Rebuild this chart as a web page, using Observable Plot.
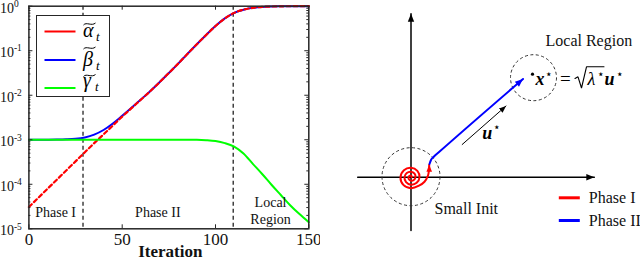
<!DOCTYPE html>
<html><head><meta charset="utf-8">
<script src="https://cdn.jsdelivr.net/npm/d3@7"></script>
<script src="https://cdn.jsdelivr.net/npm/@observablehq/plot@0.6"></script>
<style>
html,body{margin:0;padding:0;background:#fff;}
#wrap{position:relative;width:640px;height:261px;overflow:hidden;background:#fff;}
#left{position:absolute;left:0;top:0;}
#right{position:absolute;left:320px;top:0;}
#legend{position:absolute;left:36px;top:15px;width:74px;height:82px;box-sizing:border-box;border:1px solid #262626;background:#fff;}
#legend svg{position:absolute;left:-1px;top:-1px;overflow:visible;}
svg text{font-family:"Liberation Serif","Times New Roman",serif;}
</style></head><body>
<div id="wrap"><div id="left"></div><div id="right"></div><div id="legend"></div></div>
<script>
// ---------------- left chart data ----------------
const iterations = [0,5,10,15,20,25,30,35,40,45,50,55,60,65,70,75,80,85,90,95,100,105,110,115,120,125,130,135,140,145,150];
const alphaValues = [3.09e-5,4.95e-5,7.94e-5,1.27e-4,2.04e-4,3.27e-4,5.25e-4,8.41e-4,1.32e-3,2.09e-3,3.31e-3,5.13e-3,7.94e-3,1.23e-2,1.95e-2,3.16e-2,5.13e-2,8.51e-2,0.140,0.226,0.359,0.531,0.708,0.836,0.918,0.964,0.984,0.993,0.998,1.0,1.0];
const betaValues = [1.000e-3,1.001e-3,1.003e-3,1.008e-3,1.021e-3,1.052e-3,1.129e-3,1.307e-3,1.656e-3,2.32e-3,3.46e-3,5.23e-3,8.00e-3,1.234e-2,1.953e-2,3.16e-2,5.13e-2,8.51e-2,0.140,0.226,0.359,0.531,0.708,0.836,0.918,0.964,0.984,0.993,0.998,1.0,1.0];
const gammaValues = [1e-3,1e-3,1e-3,1e-3,1e-3,1e-3,1e-3,1e-3,1e-3,1e-3,1e-3,1e-3,1e-3,1e-3,1e-3,1e-3,1e-3,1e-3,1e-3,9.77e-4,9.33e-4,8.41e-4,7.0e-4,4.90e-4,2.88e-4,1.70e-4,9.77e-5,5.75e-5,3.39e-5,2.14e-5,1.41e-5];
const phaseBoundaries = [29, 109.5];
const xTicks = [0, 50, 100, 150];
const yTicks = [1e-5, 1e-4, 1e-3, 1e-2, 1e-1, 1];
const yTickExponents = ["-5", "-4", "-3", "-2", "-1", "0"];
const phaseLabelText = ["Phase I", "Phase II", "Local\nRegion"];
const phaseLabelX = [14.3, 69.1, 129.5];
const phaseLabelY = [2.48e-5, 2.48e-5, 2.62e-5];

// ---------------- right diagram data (schematic units) ----------------
const axisH = [{x:-53.3,y:0},{x:183.3,y:0}];
const axisV = [{x:0,y:-53.3},{x:0,y:163.4}];
const initCircle = [{x:0,y:0.5}];
const localCircle = [{x:122.5,y:99.5}];
const xStar = [{x:121.5,y:103}];
const spiral = [[0.5,0],[0.71,0.71],[0,1.5],[-1.41,1.41],[-2.5,0],[-2.12,-2.12],[0,-3.5],[2.83,-2.83],[4.5,0],[3.54,3.54],[0,5.5],[-4.24,4.24],[-6.5,0],[-4.95,-4.95],[0,-7.5],[5.66,-5.66],[8.5,0],[6.36,6.36],[0,9.5],[-7.07,7.07],[-10.5,0],[-7.64,-7.64],[0,-11],[8,-8.5],[13.5,-4.5],[16.8,1],[18,7],[18.2,12.5]];
const phase2Path = [[18.5,13.2],[20,17.2],[23,20.7],[27.5,24.7],[112,98.2]];
const uArrow = [[51.2,32.7],[95,71.2]];
const radical = [[164,98.7],[167,100.4],[170.5,89.2],[175.5,110.4],[193,110.4]];
const legendRows = [{label:"Phase I", color:"#ff0000", y:-20.6},{label:"Phase II", color:"#0000ff", y:-43.3}];
const legendX = [147.8, 168.8, 177.8];

// ---------------- helpers ----------------
const NS = "http://www.w3.org/2000/svg";
const serif = "Liberation Serif";
function tri(color) {
  const m = document.createElementNS(NS, "marker");
  m.setAttribute("viewBox", "-10 -5 10 10");
  m.setAttribute("refX", "0"); m.setAttribute("refY", "0");
  m.setAttribute("markerWidth", "9"); m.setAttribute("markerHeight", "8");
  m.setAttribute("markerUnits", "userSpaceOnUse");
  m.setAttribute("orient", "auto");
  const p = document.createElementNS(NS, "path");
  p.setAttribute("d", "M-10,-4L0,0L-10,4Z");
  p.setAttribute("fill", color); p.setAttribute("stroke", "none");
  m.appendChild(p);
  return m;
}
function triSmall(color) {
  const m = tri(color);
  m.setAttribute("markerWidth", "7"); m.setAttribute("markerHeight", "7");
  return m;
}

// ---------------- left chart ----------------
const rows = iterations.map((t, i) => ({t, a: alphaValues[i], b: betaValues[i], g: gammaValues[i]}));
const yTickRows = yTicks.map((v, i) => ({v, e: yTickExponents[i]}));
const minorTicks = [];
for (let e = -5; e < 0; ++e) for (let k = 2; k <= 9; ++k) minorTicks.push(k * Math.pow(10, e));
const labelRows = phaseLabelText.map((s, i) => ({s, x: phaseLabelX[i], y: phaseLabelY[i]}));

const W = 320, H = 261, mL = 28.4, mR = 11.7, mT = 5.7, mB = 32.7;
const fw = W - mL - mR, fh = H - mT - mB;
const axisColor = "#262626";

const leftPlot = Plot.plot({
  width: W, height: H,
  marginLeft: mL, marginRight: mR, marginTop: mT, marginBottom: mB,
  x: {domain: [0, 150], axis: null},
  y: {type: "log", domain: [1e-5, 1], axis: null},
  style: {fontFamily: serif, background: "white", overflow: "visible", color: "black"},
  marks: [
    Plot.ruleX(phaseBoundaries, {stroke: "#333", strokeWidth: 1.4, strokeDasharray: "4,3"}),
    Plot.line(rows, {x: "t", y: "b", stroke: "#0000ff", strokeWidth: 2, curve: "monotone-x"}),
    Plot.line(rows, {x: "t", y: "a", stroke: "#ff0000", strokeWidth: 2.2, strokeDasharray: "4,3", curve: "monotone-x"}),
    Plot.line(rows, {x: "t", y: "g", stroke: "#00ff00", strokeWidth: 2, curve: "monotone-x"}),
    Plot.text(labelRows, {x: "x", y: "y", text: "s", fontSize: 14, fontFamily: serif, lineAnchor: "middle", lineHeight: 1.22, fill: "#111"}),
    // inward ticks
    Plot.ruleY(yTicks, {insetRight: fw - 4, stroke: axisColor}),
    Plot.ruleY(yTicks, {insetLeft: fw - 4, stroke: axisColor}),
    Plot.ruleY(minorTicks, {insetRight: fw - 2, stroke: axisColor}),
    Plot.ruleY(minorTicks, {insetLeft: fw - 2, stroke: axisColor}),
    Plot.ruleX(xTicks, {insetTop: fh - 4, stroke: axisColor}),
    Plot.ruleX(xTicks, {insetBottom: fh - 4, stroke: axisColor}),
    Plot.frame({stroke: axisColor, strokeWidth: 1.5}),
    // tick labels
    Plot.text(xTicks, {x: d => d, frameAnchor: "bottom", dy: 11, lineAnchor: "middle", fontSize: 17, fontFamily: serif, fill: "#111"}),
    Plot.text(yTickRows, {y: "v", text: () => "10", frameAnchor: "left", dx: -15, dy: 2, textAnchor: "end", lineAnchor: "middle", fontSize: 14, fontFamily: serif, fill: "#111"}),
    Plot.text(yTickRows, {y: "v", text: "e", frameAnchor: "left", dx: -15, dy: -2.3, textAnchor: "start", lineAnchor: "middle", fontSize: 9.5, fontFamily: serif, fill: "#111"}),
    Plot.text(["Iteration"], {frameAnchor: "bottom", dx: 1.5, dy: 23, lineAnchor: "middle", fontSize: 17, fontWeight: "bold", fontFamily: serif, fill: "#111"})
  ]
});
document.getElementById("left").appendChild(leftPlot);

// legend (left chart)
(function () {
  const items = [
    {color: "#ff0000", y: 16.5, glyph: "α", base: 22, tildeY: 8, tx: 60},
    {color: "#0000ff", y: 45, glyph: "β", base: 51, tildeY: 32, tx: 60},
    {color: "#00ff00", y: 73, glyph: "γ", base: 72, tildeY: 59.5, tx: 59}
  ];
  const svg = d3.create("svg").attr("width", 74).attr("height", 82);
  for (const it of items) {
    svg.append("line").attr("x1", 8.5).attr("x2", 39.5).attr("y1", it.y).attr("y2", it.y)
      .attr("stroke", it.color).attr("stroke-width", 2);
    svg.append("text").attr("x", 47).attr("y", it.base).attr("font-family", serif)
      .attr("font-style", "italic").attr("font-size", 20).attr("fill", "#000").text(it.glyph);
    svg.append("text").attr("x", it.tx).attr("y", it.base + 4).attr("font-family", serif)
      .attr("font-style", "italic").attr("font-size", 13).attr("fill", "#000").text("t");
    const x0 = 47.5, y0 = it.tildeY;
    svg.append("path").attr("d", `M${x0},${y0 + 2} C${x0 + 3},${y0 - 1.5} ${x0 + 8},${y0 + 3.5} ${x0 + 12},${y0}`)
      .attr("fill", "none").attr("stroke", "#000").attr("stroke-width", 1);
  }
  document.getElementById("legend").appendChild(svg.node());
})();

// ---------------- right diagram ----------------
const ptsObj = a => a.map(([x, y]) => ({x, y}));
const rightPlot = Plot.plot({
  width: 320, height: 261,
  marginLeft: 0, marginRight: 0, marginTop: 0, marginBottom: 0,
  x: {domain: [-90.5, 229.5], axis: null},
  y: {domain: [-84.3, 176.7], axis: null},
  style: {fontFamily: serif, background: "white", overflow: "visible", color: "black"},
  marks: [
    Plot.line(axisH, {x: "x", y: "y", stroke: "#000", strokeWidth: 1.5, markerEnd: tri}),
    Plot.line(axisV, {x: "x", y: "y", stroke: "#000", strokeWidth: 1.5, markerEnd: tri}),
    Plot.dot(initCircle, {x: "x", y: "y", r: 29, stroke: "#333", strokeWidth: 1, strokeDasharray: "3,2.5", fill: "none"}),
    Plot.dot(localCircle, {x: "x", y: "y", r: 23, stroke: "#333", strokeWidth: 1, strokeDasharray: "3,2.5", fill: "none"}),
    Plot.dot(xStar, {x: "x", y: "y", r: 1.6, fill: "#000", stroke: "none"}),
    Plot.line(ptsObj(spiral), {x: "x", y: "y", stroke: "#ff0000", strokeWidth: 2, curve: "catmull-rom", markerEnd: triSmall}),
    Plot.line(ptsObj(phase2Path), {x: "x", y: "y", stroke: "#0000ff", strokeWidth: 2, curve: "monotone-x", markerEnd: tri}),
    Plot.line(ptsObj(uArrow), {x: "x", y: "y", stroke: "#000", strokeWidth: 1, markerEnd: triSmall}),
    // texts
    Plot.text([{x: 134.5, y: 131.7, s: "Local Region"}], {x: "x", y: "y", text: "s", textAnchor: "start", lineAnchor: "bottom", fontSize: 16, fontFamily: serif, fill: "#111"}),
    Plot.text([{x: 23.5, y: -36.3, s: "Small Init"}], {x: "x", y: "y", text: "s", textAnchor: "start", lineAnchor: "bottom", fontSize: 16, fontFamily: serif, fill: "#111"}),
    // math: x* = sqrt(lambda*) u*
    Plot.text([{x: 124.5, y: 92, s: "x"}, {x: 193.5, y: 92, s: "u"}, {x: 71.2, y: 38.2, s: "u"}], {x: "x", y: "y", text: "s", textAnchor: "start", lineAnchor: "bottom", fontSize: 18, fontWeight: "bold", fontStyle: "italic", fontFamily: serif, fill: "#000"}),
    Plot.text([{x: 176.5, y: 92, s: "λ"}], {x: "x", y: "y", text: "s", textAnchor: "start", lineAnchor: "bottom", fontSize: 18, fontStyle: "italic", fontFamily: serif, fill: "#000"}),
    Plot.text([{x: 149, y: 92, s: "="}], {x: "x", y: "y", text: "s", textAnchor: "start", lineAnchor: "bottom", fontSize: 19, fontFamily: serif, fill: "#000"}),
    Plot.line(ptsObj(radical), {x: "x", y: "y", stroke: "#000", strokeWidth: 1.1, strokeLinejoin: "miter"}),
    Plot.text([{x: 134, y: 99.5}, {x: 185.5, y: 99.5}, {x: 204.5, y: 99.5}, {x: 82, y: 46}], {x: "x", y: "y", text: () => "⋆", textAnchor: "start", lineAnchor: "bottom", fontSize: 12, fontFamily: "DejaVu Sans", fill: "#000"}),
    // legend
    Plot.link(legendRows, {x1: () => legendX[0], x2: () => legendX[1], y1: "y", y2: "y", stroke: "color", strokeWidth: 3}),
    Plot.text(legendRows, {x: () => legendX[2], y: "y", text: "label", textAnchor: "start", lineAnchor: "middle", fontSize: 16, fontFamily: serif, fill: "#111"})
  ]
});
document.getElementById("right").appendChild(rightPlot);
</script>
</body></html>
